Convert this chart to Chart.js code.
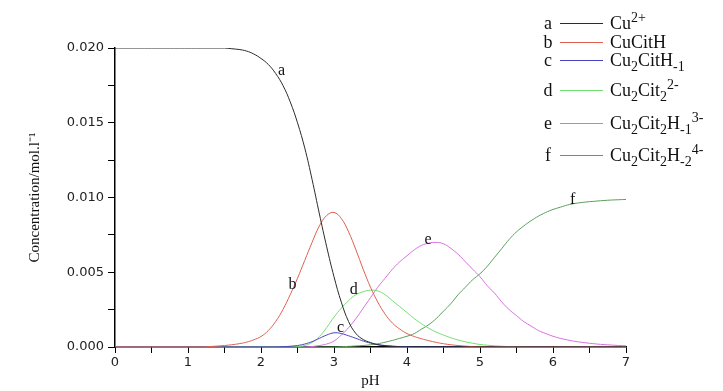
<!DOCTYPE html>
<html>
<head>
<meta charset="utf-8">
<script src="https://cdn.jsdelivr.net/npm/chart.js@4.4.1/dist/chart.umd.min.js"></script>
<style>
  html, body { margin: 0; padding: 0; background: #fff; }
  #wrap { position: relative; width: 723px; height: 391px; overflow: hidden; }
  #legend { position: absolute; left: 0; top: 0; font-family: "Liberation Serif", serif; font-size: 18px; color: #111; }
  .row { position: absolute; left: 541px; height: 22px; display: flex; align-items: center; white-space: nowrap; }
  .row:nth-child(1) { top: 12px; }
  .row:nth-child(2) { top: 31px; }
  .row:nth-child(3) { top: 49px; }
  .row:nth-child(4) { top: 79px; }
  .row:nth-child(5) { top: 112px; }
  .row:nth-child(6) { top: 144px; }
  .key { width: 14px; text-align: center; }
  .swatch { width: 43px; height: 0; border-top: 1px solid; margin: 0 7px 0 5px; }
  sub, sup { font-size: 14px; line-height: 0; }
</style>
</head>
<body>
<div id="wrap">
  <canvas id="chart" width="723" height="391"></canvas>
  <div id="legend"></div>
</div>
<script>
// pH grid, step 0.1
const pH = [
  0.0, 0.1, 0.2, 0.3, 0.4, 0.5, 0.6, 0.7, 0.8, 0.9,
  1.0, 1.1, 1.2, 1.3, 1.4, 1.5, 1.6, 1.7, 1.8, 1.9,
  2.0, 2.1, 2.2, 2.3, 2.4, 2.5, 2.6, 2.7, 2.8, 2.9,
  3.0, 3.1, 3.2, 3.3, 3.4, 3.5, 3.6, 3.7, 3.8, 3.9,
  4.0, 4.1, 4.2, 4.3, 4.4, 4.5, 4.6, 4.7, 4.8, 4.9,
  5.0, 5.1, 5.2, 5.3, 5.4, 5.5, 5.6, 5.7, 5.8, 5.9,
  6.0, 6.1, 6.2, 6.3, 6.4, 6.5, 6.6, 6.7, 6.8, 6.9,
  7.0
];

// a: Cu2+
const cuFree = [
  0.0200, 0.0200, 0.0200, 0.0200, 0.0200, 0.0200, 0.0200, 0.0200, 0.0200, 0.0200,
  0.0200, 0.0200, 0.0200, 0.0200, 0.0200, 0.0200, 0.01995, 0.0199, 0.0198, 0.0196,
  0.0193, 0.0189, 0.0183, 0.0175, 0.0164, 0.0150, 0.0133, 0.0112, 0.0089, 0.0067,
  0.0047, 0.0030, 0.0017, 0.0009, 0.0005, 0.0003, 0.00015, 0.00008, 0.00004, 0.00002,
  0, 0, 0, 0, 0, 0, 0, 0, 0, 0,
  0, 0, 0, 0, 0, 0, 0, 0, 0, 0,
  0, 0, 0, 0, 0, 0, 0, 0, 0, 0,
  0
];

// b: CuCitH
const cuCitH = [
  0, 0, 0, 0, 0, 0, 0, 0, 0, 0,
  0, 0, 0, 0.00003, 0.00006, 0.0001, 0.00015, 0.00022, 0.00032, 0.00048,
  0.0007, 0.0011, 0.0017, 0.0025, 0.0035, 0.0046, 0.0058, 0.0070, 0.0081, 0.0088,
  0.0090, 0.0086, 0.0077, 0.0065, 0.0052, 0.0040, 0.0030, 0.0022, 0.0016, 0.0012,
  0.0009, 0.0007, 0.00055, 0.00042, 0.00031, 0.00022, 0.00015, 0.0001, 0.00006, 0.00003,
  0.00001, 0, 0, 0, 0, 0, 0, 0, 0, 0,
  0, 0, 0, 0, 0, 0, 0, 0, 0, 0,
  0
];

// c: Cu2CitH-1
const cu2CitH = [
  0, 0, 0, 0, 0, 0, 0, 0, 0, 0,
  0, 0, 0, 0, 0, 0, 0, 0, 0, 0,
  0, 0, 0, 0.00002, 0.00005, 0.0001, 0.0002, 0.00036, 0.00058, 0.0008,
  0.00095, 0.0009, 0.00075, 0.00058, 0.0004, 0.00026, 0.00016, 0.0001, 0.00006, 0.00003,
  0.00002, 0, 0, 0, 0, 0, 0, 0, 0, 0,
  0, 0, 0, 0, 0, 0, 0, 0, 0, 0,
  0, 0, 0, 0, 0, 0, 0, 0, 0, 0,
  0
];

// d: Cu2Cit2 2-
const cu2Cit2 = [
  0, 0, 0, 0, 0, 0, 0, 0, 0, 0,
  0, 0, 0, 0, 0, 0, 0, 0, 0, 0,
  0, 0, 0, 0, 0, 0.00003, 0.0001, 0.0003, 0.0007, 0.0013,
  0.0020, 0.0026, 0.0031, 0.0035, 0.0037, 0.0038, 0.00375, 0.0035, 0.0031, 0.0027,
  0.0023, 0.0019, 0.00155, 0.00125, 0.0010, 0.0008, 0.00062, 0.00047, 0.00035, 0.00025,
  0.00017, 0.00012, 0.00008, 0.00005, 0.00003, 0.00002, 0, 0, 0, 0,
  0, 0, 0, 0, 0, 0, 0, 0, 0, 0,
  0
];

// e: Cu2Cit2H-1 3-
const cu2Cit2H1 = [
  0, 0, 0, 0, 0, 0, 0, 0, 0, 0,
  0, 0, 0, 0, 0, 0, 0, 0, 0, 0,
  0, 0, 0, 0, 0, 0, 0, 0.00003, 0.0001, 0.0002,
  0.0004, 0.0008, 0.0013, 0.0019, 0.0026, 0.0033, 0.0040, 0.0046, 0.0052, 0.0057,
  0.0061, 0.0065, 0.0068, 0.00695, 0.0070, 0.0069, 0.0066, 0.0062, 0.0057, 0.0052,
  0.0047, 0.0041, 0.0036, 0.0030, 0.0025, 0.0021, 0.0017, 0.0014, 0.0011, 0.0009,
  0.00072, 0.00058, 0.00047, 0.00038, 0.00031, 0.00025, 0.0002, 0.00016, 0.00013, 0.0001,
  0.00008
];

// f: Cu2Cit2H-2 4-
const cu2Cit2H2 = [
  0, 0, 0, 0, 0, 0, 0, 0, 0, 0,
  0, 0, 0, 0, 0, 0, 0, 0, 0, 0,
  0, 0, 0, 0, 0, 0, 0, 0, 0, 0,
  0, 0.00002, 0.00004, 0.00007, 0.0001, 0.00015, 0.00022, 0.00032, 0.00044, 0.00058,
  0.00072, 0.0009, 0.0012, 0.0015, 0.0019, 0.0024, 0.0029, 0.0035, 0.0040, 0.0045,
  0.0049, 0.0054, 0.0060, 0.0066, 0.0072, 0.0077, 0.0081, 0.00845, 0.00875, 0.0090,
  0.0092, 0.00935, 0.0095, 0.0096, 0.00967, 0.00972, 0.00976, 0.0098, 0.00983, 0.00985,
  0.00987
];

const seriesKeys = ['a', 'b', 'c', 'd', 'e', 'f'];
const seriesNames = [
  'Cu<sup>2+</sup>',
  'CuCitH',
  'Cu<sub>2</sub>CitH<sub>-1</sub>',
  'Cu<sub>2</sub>Cit<sub>2</sub><sup>2-</sup>',
  'Cu<sub>2</sub>Cit<sub>2</sub>H<sub>-1</sub><sup>3-</sup>',
  'Cu<sub>2</sub>Cit<sub>2</sub>H<sub>-2</sub><sup>4-</sup>'
];
const seriesValues = [cuFree, cuCitH, cu2CitH, cu2Cit2, cu2Cit2H1, cu2Cit2H2];
const seriesColors = ['#2b2b2b', '#e0604f', '#4545c0', '#70df70', '#d86fe2', '#5a9f5a'];

// where the curve letters sit (pH, concentration)
const letterPH = [2.28, 2.43, 3.09, 3.27, 4.29, 6.27];
const letterConc = [0.0185, 0.00415, 0.00127, 0.0038, 0.00716, 0.00983];

const legendEl = document.getElementById('legend');
legendEl.innerHTML = seriesKeys.map((key, i) =>
  `<div class="row"><span class="key">${key}</span>` +
  `<span class="swatch" style="border-color:${seriesColors[i]}"></span>` +
  `<span>${seriesNames[i]}</span></div>`
).join('');

const curveLetters = {
  id: 'curveLetters',
  afterDatasetsDraw(chart) {
    const { ctx, scales: { x, y } } = chart;
    ctx.save();
    ctx.font = '16px "Liberation Serif", serif';
    ctx.fillStyle = '#111';
    ctx.textAlign = 'center';
    ctx.textBaseline = 'middle';
    seriesKeys.forEach((key, i) => {
      ctx.fillText(key, x.getPixelForValue(letterPH[i]), y.getPixelForValue(letterConc[i]));
    });
    ctx.restore();
  }
};

const tickFont = { family: 'DejaVu Sans', size: 13 };
const titleFont = { family: 'Liberation Serif', size: 15 };

new Chart(document.getElementById('chart'), {
  type: 'line',
  data: {
    datasets: seriesValues.map((values, i) => ({
      label: seriesKeys[i],
      data: values.map((v, j) => ({ x: pH[j], y: v })),
      borderColor: seriesColors[i],
      borderWidth: 1,
      pointRadius: 0,
      fill: false,
      tension: 0.4
    }))
  },
  options: {
    responsive: false,
    animation: false,
    devicePixelRatio: 1,
    layout: { padding: { top: 48, right: 97, bottom: 0, left: 0 } },
    plugins: {
      legend: { display: false },
      tooltip: { enabled: false }
    },
    scales: {
      x: {
        type: 'linear',
        min: 0,
        max: 7,
        afterFit: (scale) => { scale.height = 44; },
        border: { color: '#000', width: 1.5 },
        grid: { drawOnChartArea: false, tickLength: 6, tickColor: '#000' },
        ticks: {
          stepSize: 0.5,
          padding: 2,
          autoSkip: false,
          maxRotation: 0,
          color: '#222',
          font: tickFont,
          callback: (v) => Number.isInteger(v) ? String(v) : ''
        },
        title: { display: true, text: 'pH', color: '#111', font: titleFont, padding: { top: 0, bottom: 1 } }
      },
      y: {
        min: 0,
        max: 0.02,
        afterFit: (scale) => { scale.width = 115; },
        border: { color: '#000', width: 1.5 },
        grid: { drawOnChartArea: false, tickLength: 7, tickColor: '#000' },
        ticks: {
          stepSize: 0.0025,
          padding: 4,
          autoSkip: false,
          color: '#222',
          font: tickFont,
          callback: (v) => {
            const r = v / 0.005;
            return Math.abs(r - Math.round(r)) < 1e-6 ? v.toFixed(3) : '';
          }
        },
        title: { display: true, text: 'Concentration/mol.l\u207B\u00B9', color: '#111', font: titleFont, padding: { top: 26, bottom: 0 } }
      }
    }
  },
  plugins: [curveLetters]
});
</script>
</body>
</html>
